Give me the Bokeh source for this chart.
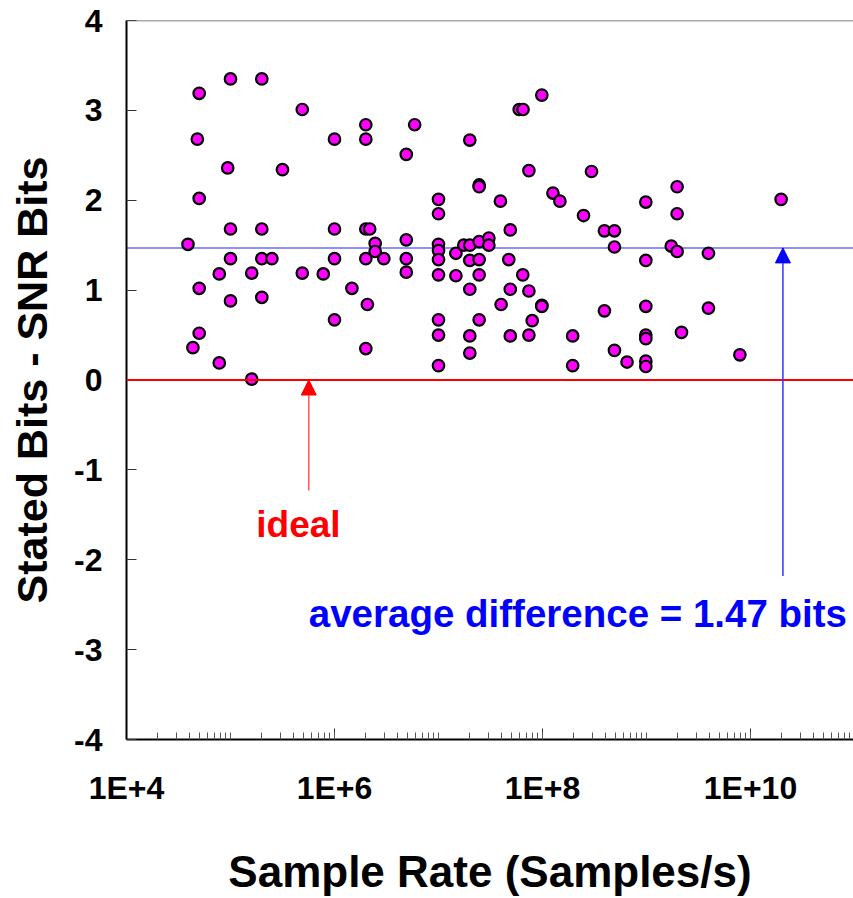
from bokeh.plotting import figure
from bokeh.models import (Range1d, FixedTicker, CustomJSTickFormatter, Span, Arrow,
                          NormalHead, Label, ColumnDataSource)
from bokeh.embed import file_html
from bokeh.resources import INLINE

# Sample rate (samples/s) and stated bits minus SNR bits for each converter
sample_rate = [
    3.9e4, 4.35e4, 4.8e4, 5e4, 5e4, 5e4, 5e4, 7.8e4, 7.8e4, 9.4e4,
    1e5, 1e5, 1e5, 1e5, 1.6e5, 1.6e5, 2e5, 2e5, 2e5, 2e5,
    2.5e5, 3.16e5, 4.9e5, 4.9e5, 7.8e5, 1e6, 1e6, 1e6, 1e6, 1.47e6,
    2e6, 2e6, 2e6, 2e6, 2e6, 2.07e6, 2.18e6, 2.46e6, 2.46e6, 2.98e6,
    4.9e6, 4.9e6, 4.9e6, 4.9e6, 5.9e6, 1e7, 1e7, 1e7, 1e7, 1e7,
    1e7, 1e7, 1e7, 1e7, 1.47e7, 1.47e7, 1.75e7, 2e7, 2e7, 2e7,
    2e7, 2e7, 2e7, 2.46e7, 2.46e7, 2.46e7, 2.46e7, 2.46e7, 2.46e7, 3.05e7,
    3.05e7, 3.94e7, 4e7, 4.74e7, 4.9e7, 4.9e7, 4.9e7, 5.97e7, 6.5e7, 6.46e7,
    7.4e7, 7.4e7, 7.4e7, 7.96e7, 9.85e7, 9.85e7, 9.85e7, 1.26e8, 1.47e8, 1.95e8,
    1.95e8, 2.48e8, 2.96e8, 3.94e8, 3.94e8, 4.92e8, 4.92e8, 4.92e8, 6.5e8, 9.85e8,
    9.85e8, 9.85e8, 9.85e8, 9.85e8, 9.85e8, 9.85e8, 1.73e9, 1.97e9, 1.97e9, 1.97e9,
    2.17e9, 3.94e9, 3.94e9, 7.9e9, 1.97e10,
]
bits_diff = [
    1.51, 0.36, 2.68, 3.19, 2.02, 1.02, 0.52, 1.18, 0.19, 2.36,
    3.35, 1.68, 1.35, 0.88, 1.19, 0.01, 3.35, 1.68, 1.35, 0.92,
    1.35, 2.34, 3.01, 1.19, 1.18, 2.68, 1.68, 1.35, 0.67, 1.02,
    2.84, 2.68, 1.68, 1.35, 0.35, 0.84, 1.68, 1.52, 1.43, 1.35,
    2.51, 1.56, 1.35, 1.20, 2.84, 2.01, 1.85, 1.51, 1.44, 1.34,
    1.17, 0.67, 0.50, 0.16, 1.41, 1.16, 1.50, 2.67, 1.50, 1.33,
    1.01, 0.49, 0.30, 2.17, 2.15, 1.54, 1.34, 1.17, 0.67, 1.58,
    1.50, 1.99, 0.84, 1.34, 1.67, 1.01, 0.49, 3.01, 3.01, 1.17,
    2.33, 0.99, 0.50, 0.66, 3.17, 0.83, 0.82, 2.08, 1.99, 0.49,
    0.16, 1.83, 2.32, 1.66, 0.77, 1.66, 1.48, 0.33, 0.20, 1.98,
    1.33, 0.82, 0.50, 0.46, 0.21, 0.15, 1.49, 2.15, 1.85, 1.43,
    0.53, 1.41, 0.80, 0.28, 2.01,
]

avg_diff = 1.47
ideal_diff = 0.0

x_major_ticks = [1e4, 1e6, 1e8, 1e10]
x_minor_ticks = [k * 10.0 ** n for n in range(4, 11) for k in range(1, 10)]
y_ticks = [-4, -3, -2, -1, 0, 1, 2, 3, 4]

# annotation anchors (data space)
ideal_arrow_x, ideal_arrow_from = 5.66e5, -1.23
avg_arrow_x, avg_arrow_from = 2.05e10, -2.18
ideal_text_x, ideal_text_y = 4.5e5, -1.61
avg_text_x, avg_text_y = 2.19e8, -2.60

FONT = "Liberation Sans"

p = figure(
    x_axis_type="log",
    x_range=Range1d(1e4, 10 ** 10.9904),
    y_range=Range1d(-4, 4),
    frame_width=727, frame_height=719,
    min_border_left=126, min_border_right=0,
    min_border_top=20, min_border_bottom=159,
    output_backend="svg", toolbar_location=None,
    background_fill_color="white", border_fill_color="white",
)
p.outline_line_color = None
p.xgrid.grid_line_color = None
p.ygrid.grid_line_color = None

# x axis
xa = p.xaxis[0]
xa.ticker = FixedTicker(ticks=x_major_ticks, minor_ticks=x_minor_ticks)
xa.formatter = CustomJSTickFormatter(code="return '1E+' + Math.round(Math.log10(tick));")
xa.axis_label = "Sample Rate (Samples/s)"
xa.axis_label_text_font = FONT
xa.axis_label_text_font_style = "bold"
xa.axis_label_text_font_size = "44px"
xa.axis_label_text_color = "black"
xa.axis_label_standoff = 38
xa.major_label_text_font = FONT
xa.major_label_text_font_style = "bold"
xa.major_label_text_font_size = "32px"
xa.major_label_text_color = "black"
xa.major_label_standoff = 30
xa.major_tick_in = 11
xa.major_tick_out = 0
xa.minor_tick_in = 7
xa.minor_tick_out = 0
xa.major_tick_line_color = "#333333"
xa.minor_tick_line_color = "#555555"
xa.axis_line_color = "black"
xa.axis_line_width = 2

# y axis, labels written with a plain hyphen for negatives
ya = p.yaxis[0]
ya.ticker = FixedTicker(ticks=y_ticks)
ya.formatter = CustomJSTickFormatter(code="return String(Math.round(tick));")
ya.axis_label = "Stated Bits - SNR Bits"
ya.axis_label_text_font = FONT
ya.axis_label_text_font_style = "bold"
ya.axis_label_text_font_size = "43px"
ya.axis_label_text_color = "black"
ya.axis_label_standoff = 15
ya.major_label_text_font = FONT
ya.major_label_text_font_style = "bold"
ya.major_label_text_font_size = "32px"
ya.major_label_text_color = "black"
ya.major_label_standoff = 24
ya.major_tick_in = 10
ya.major_tick_out = 0
ya.minor_tick_line_color = None
ya.major_tick_line_color = "#333333"
ya.axis_line_color = "black"
ya.axis_line_width = 2

# top frame line
p.add_layout(Span(location=4, dimension="width", line_color="#555555",
                  line_width=1.5))

# average line sits beneath the markers
p.add_layout(Span(location=avg_diff, dimension="width", line_color="#6a6aff",
                  line_width=1.5, level="underlay"))

src = ColumnDataSource(data=dict(rate=sample_rate, diff=bits_diff))
p.scatter("rate", "diff", source=src, size=11.5, fill_color="#ff00ff",
          line_color="black", line_width=2.2)

# ideal line drawn over the markers
p.add_layout(Span(location=ideal_diff, dimension="width", line_color="#ff0000",
                  line_width=2))

p.add_layout(Arrow(
    end=NormalHead(size=15, fill_color="#ff0000", line_color="#ff0000", line_width=1),
    x_start=ideal_arrow_x, y_start=ideal_arrow_from,
    x_end=ideal_arrow_x, y_end=ideal_diff,
    line_color="#ff5555", line_width=1.5))
p.add_layout(Arrow(
    end=NormalHead(size=15, fill_color="#0000ff", line_color="#0000ff", line_width=1),
    x_start=avg_arrow_x, y_start=avg_arrow_from,
    x_end=avg_arrow_x, y_end=avg_diff,
    line_color="#3333ff", line_width=1.5))

p.add_layout(Label(x=ideal_text_x, y=ideal_text_y, text="ideal",
                   text_align="center", text_baseline="alphabetic",
                   text_font=FONT, text_font_style="bold",
                   text_font_size="37px", text_color="#ff0000"))
p.add_layout(Label(x=avg_text_x, y=avg_text_y,
                   text="average difference = %.2f bits" % avg_diff,
                   text_align="center", text_baseline="alphabetic",
                   text_font=FONT, text_font_style="bold",
                   text_font_size="38.5px", text_color="#0000ff"))

open("out.html", "w").write(file_html(p, INLINE))
